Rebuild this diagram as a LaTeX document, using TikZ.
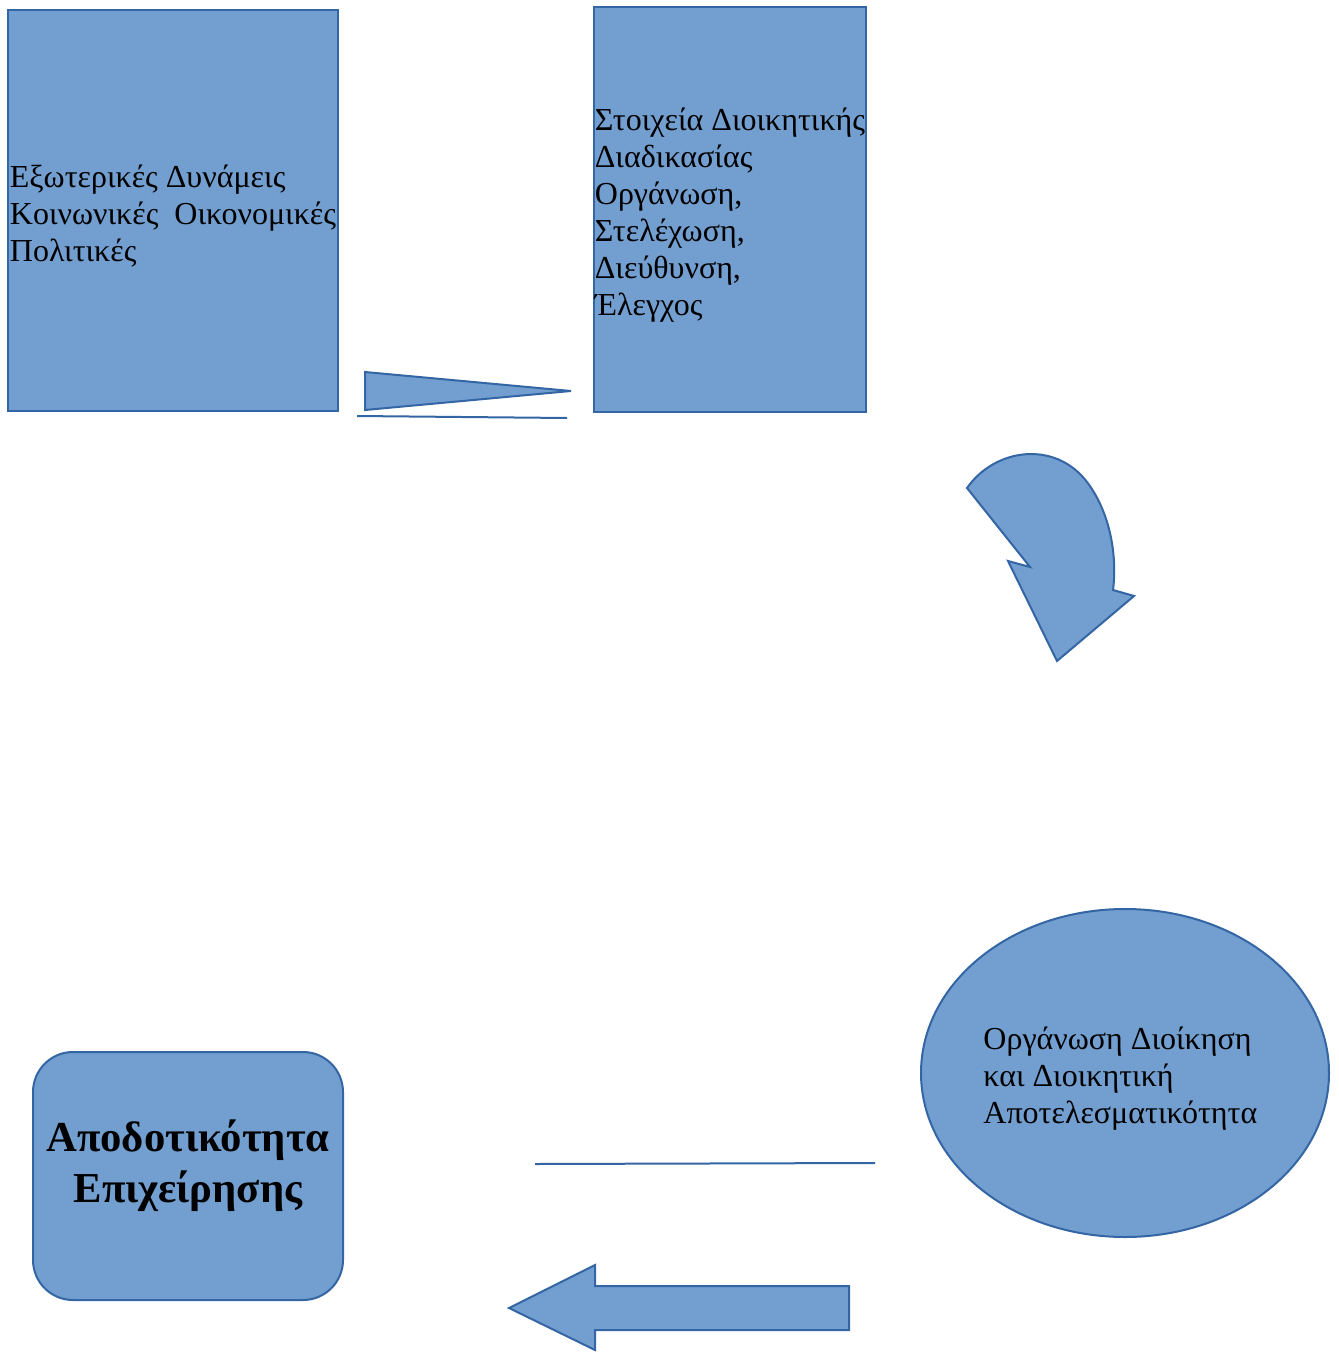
\documentclass[tikz,border=0pt]{standalone}
\usepackage{fontspec}
\setmainfont{Liberation Serif}
\usetikzlibrary{shapes.geometric}
\definecolor{boxfill}{HTML}{729FCF}
\definecolor{boxline}{HTML}{3465A4}
\newcommand\toppad{\rule{0pt}{25pt}}

\begin{document}
\begin{tikzpicture}[x=0.75pt,y=-0.75pt,
  blue shape/.style={fill=boxfill,draw=boxline,line width=1.5pt},
  panel/.style={blue shape,inner sep=1pt,align=left,font=\fontsize{24}{27.75}\selectfont}]
\useasboundingbox (0,0) rectangle (1338,1352);
\node[panel,minimum width=330*0.75pt,minimum height=401*0.75pt] (forces) at (173,210.5)
  {\toppad Εξωτερικές Δυνάμεις\\Κοινωνικές\hspace{0.5em}Οικονομικές\\Πολιτικές};
\node[panel,minimum width=272*0.75pt,minimum height=405*0.75pt] (steps) at (730,209.5)
  {\toppad Στοιχεία Διοικητικής\\Διαδικασίας\\Οργάνωση,\\Στελέχωση,\\Διεύθυνση,\\Έλεγχος};
\node[panel,ellipse,inner sep=0pt,minimum width=408*0.75pt,minimum height=328*0.75pt] (effect) at (1125,1073)
  {\toppad Οργάνωση Διοίκηση\\και Διοικητική\\Αποτελεσματικότητα\hspace*{7pt}};
\node[panel,rounded corners=30pt,align=center,minimum width=310*0.75pt,minimum height=248*0.75pt,
  font=\fontsize{32}{38}\selectfont\bfseries] (result) at (188,1176)
  {Αποδοτικότητα\\Επιχείρησης\rule[-22pt]{0pt}{0pt}};

\draw[blue shape] (365,372) -- (571,391) -- (365,410) -- cycle;
\coordinate (base a) at (357,416);
\coordinate (base b) at (567,418);
\draw[boxline,line width=1.5pt] (base a) -- (base b);

\draw[blue shape] (967,488) .. controls (995,448) and (1055,440) .. (1087,482)
  .. controls (1112,515) and (1117,560) .. (1113,590) -- (1134,596) -- (1057,661)
  -- (1008,561) -- (1030,567) -- cycle;

\coordinate (rule a) at (875,1163);
\coordinate (rule b) at (535,1164);
\draw[boxline,line width=1.5pt] (rule a) -- (rule b);

\draw[blue shape] (849,1286) -- (595,1286) -- (595,1265) -- (509,1308) -- (595,1350)
  -- (595,1330) -- (849,1330) -- cycle;
\end{tikzpicture}
\end{document}
